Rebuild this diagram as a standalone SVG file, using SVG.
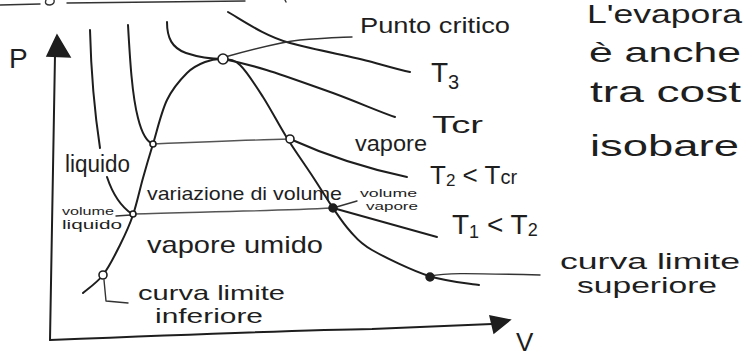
<svg xmlns="http://www.w3.org/2000/svg" width="744" height="356" viewBox="0 0 744 356">
<style>
.ln{fill:none;stroke:#1e1e1e;stroke-width:2;stroke-linecap:round;stroke-linejoin:round}
.tie{fill:none;stroke:#555;stroke-width:1.3;stroke-linecap:round}
.ld{fill:none;stroke:#333;stroke-width:1.4;stroke-linecap:round;stroke-linejoin:round}
.pt{fill:#fff;stroke:#1e1e1e;stroke-width:1.6}
.ptf{fill:#1e1e1e;stroke:#1e1e1e;stroke-width:1.5}
text{font-family:"Liberation Sans","DejaVu Sans",sans-serif;fill:#1e1e1e}
</style>
<rect width="744" height="356" fill="#fff"/>
<g id="top-fragments">
<path class="ld" d="M0,5 L40,4"/>
<path class="ld" d="M46,0 Q44,5 50,5 Q55,4 54,0"/>
<path class="ld" d="M67,3 L245,1"/>
<path class="ld" d="M285,0 L286,2"/>
</g>
<g id="axes">
<path class="ln" d="M50,340 C52,240 53,140 55,55"/>
<polygon points="57,35 47,56 70,57" fill="#1e1e1e" stroke="#1e1e1e" stroke-width="1.5"/>
<path class="ln" d="M50,340 C150,336 300,330 372,329 C420,327 460,325 492,324"/>
<polygon points="490,316 510,320 494,333" fill="#1e1e1e" stroke="#1e1e1e" stroke-width="1.5"/>
</g>
<g id="connectors">
<path id="dome" class="ln" d="M83,293 C86.3,290 96.8,283 103,275 C109.2,267 115,255 120,245 C125,235 129.2,226.2 133,215 C136.8,203.8 139.7,189.8 143,178 C146.3,166.2 149,157 153,144 C157,131 161.3,111.8 167,100 C172.7,88.2 180.7,79.3 187,73 C193.3,66.7 199,64.3 205,62 C211,59.7 217.2,58.5 223,59 C228.8,59.5 233.3,58.7 240,65 C246.7,71.3 255.2,84.8 263,97 C270.8,109.2 278.7,124.7 287,138 C295.3,151.3 305.3,165.3 313,177 C320.7,188.7 326.8,199 333,208 C339.2,217 343.5,224 350,231 C356.5,238 358.8,242.5 372,250 C385.2,257.5 411.2,270.2 429,276 C446.8,281.8 470.7,283.5 479,285"/>
<path id="iso-a" class="ln" d="M90,30 C91,70 95,115 100,148"/>
<path id="iso-a2" class="ln" d="M107,177 C112,192 120,206 132,214"/>
<path id="tie-1" class="tie" d="M133,214 C200,212 270,211 333,208"/>
<path id="iso-t1" class="ln" d="M333,208 C370,218 405,228 437,237"/>
<path id="iso-b" class="ln" d="M128,25 C130,60 132,95 138,118 C142,134 147,142 153,144"/>
<path id="tie-2" class="tie" d="M153,144 C200,142 250,140 290,139"/>
<path id="iso-t2" class="ln" d="M290,139 C310,148 350,165 407,177"/>
<path id="iso-tcr" class="ln" d="M167,22 C167,38 172,48 186,53 C198,57 212,59 223,59 C260,66 290,78 333,93 C360,103 380,112 395,117"/>
<path id="iso-t3" class="ln" d="M228,12 C245,22 265,36 290,43 C320,51 350,56 372,62 C390,67 400,70 410,72"/>
<path id="lead-pc" class="ld" d="M225,57 C250,50 275,43 300,40 C325,38 340,37 352,37"/>
<path id="lead-vv" class="ld" d="M333,208 L357,201"/>
<path id="lead-cls" class="ld" d="M430,276 C445,273 460,273 540,275"/>
<path id="lead-cli" class="ld" d="M104,280 L106,301 L128,303"/>
<path id="lead-vl" class="ld" d="M116,216 L131,215"/>
</g>
<g id="points">
<circle class="pt" cx="223" cy="59" r="5" stroke-width="2.6"/>
<circle class="pt" cx="153" cy="144" r="3" stroke-width="1.2"/>
<circle class="pt" cx="290" cy="139" r="4" stroke-width="2"/>
<circle class="pt" cx="133" cy="214" r="3" stroke-width="1.2"/>
<circle class="ptf" cx="333" cy="208" r="4"/>
<circle class="pt" cx="103" cy="275" r="4" stroke-width="1.5"/>
<circle class="ptf" cx="430" cy="277" r="4"/>
</g>
<g id="label-P"><text x="9" y="68" font-size="28">P</text></g>
<g id="label-V"><text x="516" y="351" font-size="26">V</text></g>
<g id="label-punto-critico"><text x="360" y="33" font-size="22" textLength="150" lengthAdjust="spacingAndGlyphs">Punto critico</text></g>
<g id="label-T3"><text x="431" y="82" font-size="28">T<tspan font-size="20" dy="7">3</tspan></text></g>
<g id="label-Tcr"><text x="432" y="133" font-size="24" textLength="51" lengthAdjust="spacingAndGlyphs">Tcr</text></g>
<g id="label-vapore"><text x="355" y="151" font-size="22" textLength="72" lengthAdjust="spacingAndGlyphs">vapore</text></g>
<g id="label-T2"><text x="430" y="184" font-size="26">T<tspan font-size="17" dy="2">2</tspan><tspan dy="-2"> &lt; </tspan>T<tspan font-size="20">cr</tspan></text></g>
<g id="label-T1"><text x="452" y="234" font-size="28">T<tspan font-size="18" dy="4">1</tspan><tspan dy="-4"> &lt; </tspan>T<tspan font-size="18" dy="2">2</tspan></text></g>
<g id="label-volume-vapore"><text x="360" y="197" font-size="11" textLength="57" lengthAdjust="spacingAndGlyphs">volume</text><text x="366" y="210" font-size="11" textLength="52" lengthAdjust="spacingAndGlyphs">vapore</text></g>
<g id="label-variazione"><text x="147" y="200" font-size="19" textLength="195" lengthAdjust="spacingAndGlyphs">variazione di volume</text></g>
<g id="label-volume-liquido"><text x="62" y="215" font-size="11" textLength="52" lengthAdjust="spacingAndGlyphs">volume</text><text x="62" y="229" font-size="12" textLength="60" lengthAdjust="spacingAndGlyphs">liquido</text></g>
<g id="label-liquido"><text x="65" y="172" font-size="23" textLength="65" lengthAdjust="spacingAndGlyphs">liquido</text></g>
<g id="label-vapore-umido"><text x="147" y="253" font-size="24" textLength="176" lengthAdjust="spacingAndGlyphs">vapore umido</text></g>
<g id="label-cli"><text x="138" y="300" font-size="21" textLength="147" lengthAdjust="spacingAndGlyphs">curva limite</text><text x="155" y="323" font-size="21" textLength="108" lengthAdjust="spacingAndGlyphs">inferiore</text></g>
<g id="label-cls"><text x="560" y="269" font-size="22" textLength="180" lengthAdjust="spacingAndGlyphs">curva limite</text><text x="577" y="293" font-size="22" textLength="140" lengthAdjust="spacingAndGlyphs">superiore</text></g>
<g id="note">
<text x="587" y="23" font-size="25" textLength="155" lengthAdjust="spacingAndGlyphs">L'evapora</text>
<text x="589" y="62" font-size="28" textLength="152" lengthAdjust="spacingAndGlyphs">è anche</text>
<text x="590" y="102" font-size="30" textLength="151" lengthAdjust="spacingAndGlyphs">tra cost</text>
<text x="590" y="156" font-size="30" textLength="149" lengthAdjust="spacingAndGlyphs">isobare</text>
</g>
</svg>
